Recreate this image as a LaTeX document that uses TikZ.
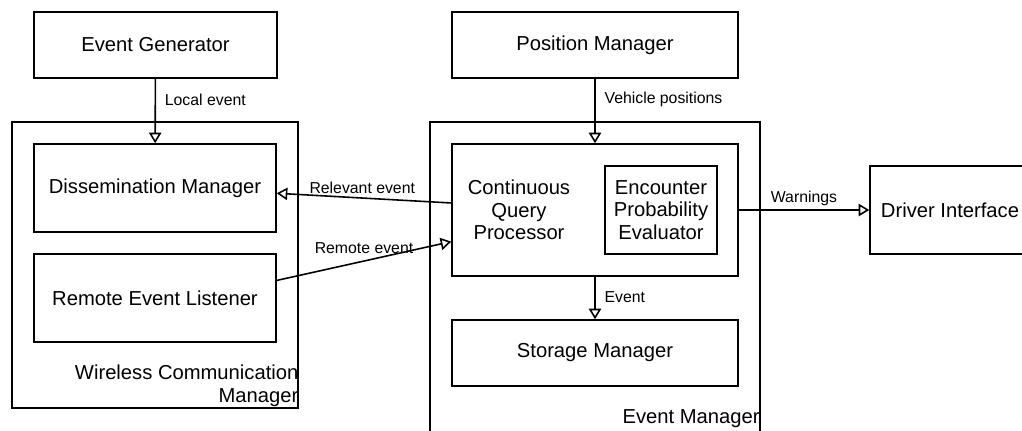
\documentclass[tikz,border=0pt]{standalone}
\usepackage{fontspec}
\setmainfont{Liberation Sans}
\usetikzlibrary{arrows.meta}
\begin{document}
\begin{tikzpicture}[x=0.02cm,y=-0.02cm,
    blk/.style={draw,line width=0.9pt,inner sep=0pt,align=center,
        font=\fontsize{11.5}{12.8}\selectfont},
    txt/.style={inner sep=0pt,align=center,font=\fontsize{11.5}{12.8}\selectfont},
    lbl/.style={inner sep=2pt,font=\fontsize{9}{11}\selectfont},
    arr/.style={-{Triangle[open,length=6pt,width=7pt]},line width=0.9pt}]

    \useasboundingbox (0,0) rectangle (1022,430);

    % the outer boxes
    \node[blk,minimum width=5.72cm,minimum height=5.72cm] (wcm) at (155,265) {};
    \node[blk,minimum width=6.6cm,minimum height=6.36cm] (em) at (595,281) {};

    % the blocks
    \node[blk,minimum width=4.86cm,minimum height=1.32cm] (gen) at (155.5,45) {Event Generator};
    \node[blk,minimum width=5.72cm,minimum height=1.32cm] (pos) at (595,45) {Position Manager};
    \node[blk,minimum width=4.84cm,minimum height=1.76cm] (diss) at (155,188) {Dissemination Manager};
    \node[blk,minimum width=4.84cm,minimum height=1.76cm] (rel) at (155,298) {Remote Event Listener};
    \node[blk,minimum width=5.72cm,minimum height=2.64cm] (cqp) at (595,210) {};
    \node[blk,minimum width=2.24cm,minimum height=1.76cm] (epe) at (661,210)
        {Encounter\\Probability\\Evaluator};
    \node[blk,minimum width=5.72cm,minimum height=1.32cm] (sto) at (595,353) {Storage Manager};
    \node[blk,minimum width=3.2cm,minimum height=1.76cm] (drv) at (950,210) {Driver Interface};

    % the texts
    \node[txt] (cqptxt) at (519,210) {Continuous\\Query\\Processor};
    \node[txt,align=right,anchor=south east] (wcmtxt) at ([yshift=1pt]wcm.south east)
        {Wireless Communication\\Manager};
    \node[txt,anchor=base east] (emtxt) at (760,423) {Event Manager};

    % the connectors
    \draw[arr] (gen) -- node[lbl,pos=0.32,right=3pt] {Local event} (diss);
    \draw[arr] (pos) -- node[lbl,pos=0.32,right=3pt] {Vehicle positions} (cqp);
    \draw[arr] ([yshift=4pt]cqp.west) -- node[lbl,pos=0.51,above] {Relevant event}
        ([yshift=-3pt]diss.east);
    \draw[arr] ([yshift=10pt]rel.east) -- node[lbl,pos=0.5,above=2pt] {Remote event}
        ([yshift=-18pt]cqp.west);
    \draw[arr] (cqp) -- node[lbl,pos=0.48,right=3pt] {Event} (sto);
    \draw[arr] (cqp.east) -- node[lbl,pos=0.5,above] {Warnings} (drv);
\end{tikzpicture}
\end{document}
